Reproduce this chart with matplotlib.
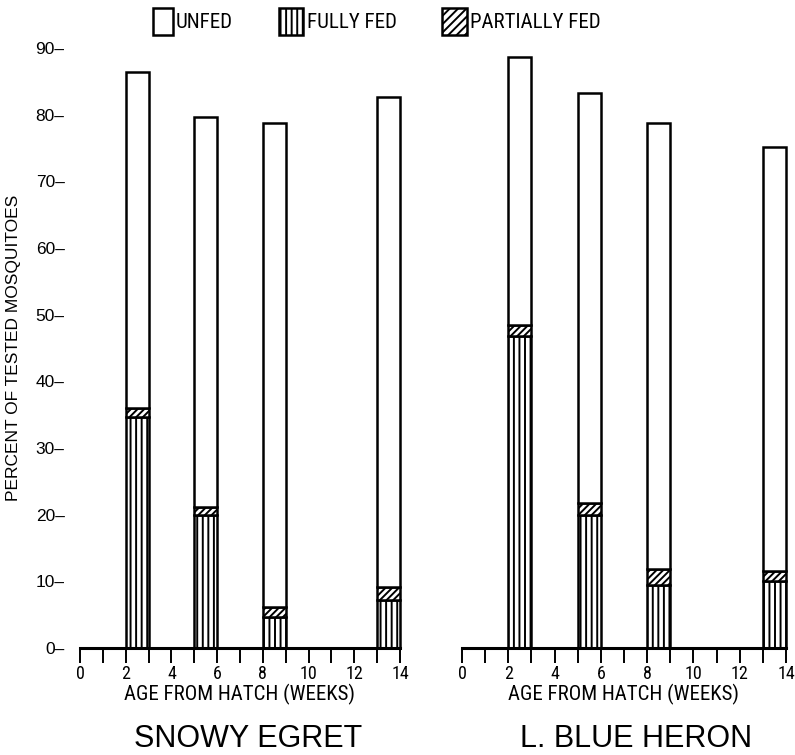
import matplotlib
matplotlib.use("Agg")
import matplotlib.pyplot as plt
from matplotlib.patches import Rectangle
import logging
logging.getLogger('matplotlib.font_manager').setLevel(logging.ERROR)

COND = ['Roboto Condensed', 'Archivo Narrow', 'PT Sans Narrow', 'Liberation Sans', 'DejaVu Sans']
REG = ['Liberation Sans', 'DejaVu Sans']
plt.rcParams['font.family'] = COND
plt.rcParams['hatch.linewidth'] = 1.4

# Data (percent of tested mosquitoes)
bar_starts = [2, 5, 8, 13]          # week bins (bar spans start..start+1)
species = ["SNOWY EGRET", "L. BLUE HERON"]
total = {"SNOWY EGRET": [86.4, 79.7, 78.7, 82.6],
         "L. BLUE HERON": [88.6, 83.3, 78.7, 75.2]}
fully_fed = {"SNOWY EGRET": [34.7, 20.0, 4.7, 7.2],
             "L. BLUE HERON": [46.8, 20.0, 9.5, 10.1]}
partially_fed = {"SNOWY EGRET": [1.3, 1.2, 1.5, 2.0],
                 "L. BLUE HERON": [1.7, 1.8, 2.4, 1.5]}
legend_labels = ["UNFED", "FULLY FED", "PARTIALLY FED"]
y_ticks = [0, 10, 20, 30, 40, 50, 60, 70, 80, 90]
x_ticks = list(range(0, 15))
x_ticklabels = ["0", "", "2", "", "4", "", "6", "", "8", "", "10", "", "12", "", "14"]

W, H = 795, 755
fig = plt.figure(figsize=(W / 100, H / 100), dpi=100)

ax_rects = [(80, 400), (462, 786)]
title_cx = [248, 636]
y0_px, y90_px = 648, 48
ah = y0_px - y90_px

for i, sp in enumerate(species):
    xl, xr = ax_rects[i]
    ax = fig.add_axes([xl / W, (H - y0_px) / H, (xr - xl) / W, ah / H])
    fully = fully_fed[sp]
    part = partially_fed[sp]
    tot = total[sp]
    unfed = [t - f - p for t, f, p in zip(tot, fully, part)]
    unfed_bottom = [f + p for f, p in zip(fully, part)]
    kw = dict(width=1.0, align='edge', edgecolor='black', linewidth=1.8,
              facecolor='white', clip_on=False)
    ax.bar(bar_starts, fully, hatch='|||', **kw)
    ax.bar(bar_starts, part, bottom=fully, hatch='/////', **kw)
    ax.bar(bar_starts, unfed, bottom=unfed_bottom, **kw)

    ax.set_xlim(0, 14)
    ax.set_ylim(0, 90)
    for s in ['top', 'right', 'left']:
        ax.spines[s].set_visible(False)
    ax.spines['bottom'].set_linewidth(2.2)
    ax.set_xticks(x_ticks)
    ax.set_xticklabels(x_ticklabels, fontsize=13)
    ax.tick_params(axis='x', direction='out', length=11, width=1.4, pad=1)
    if i == 0:
        ax.set_yticks(y_ticks)
        ax.set_yticklabels([f"{v}\u2013" for v in y_ticks], fontsize=12.5, family=REG)
        ax.tick_params(axis='y', length=0, pad=11)
        ax.set_ylabel("PERCENT OF TESTED MOSQUITOES", fontsize=12.5, family=REG)
        ax.yaxis.set_label_coords(-(xl - 21) / (xr - xl), 0.5)
    else:
        ax.set_yticks([])
    ax.set_xlabel("AGE FROM HATCH (WEEKS)", fontsize=15)
    ax.xaxis.set_label_coords(0.5, -(684 - y0_px) / ah)
    fig.text(title_cx[i] / W, (H - 739) / H, sp, ha='center', va='center',
             fontsize=22, family=REG)

# Legend drawn in figure coordinates
legend_hatches = [None, '|||', '////']
legend_box_x = [153, 279, 442]
legend_box_w = [20, 24, 25]
legend_text_x = [176, 307, 470]
box_top, box_h = 8, 27
for lab, hx, bx, bw, tx in zip(legend_labels, legend_hatches, legend_box_x,
                               legend_box_w, legend_text_x):
    r = Rectangle((bx / W, (H - box_top - box_h) / H), bw / W, box_h / H,
                  transform=fig.transFigure, facecolor='white', edgecolor='black',
                  linewidth=1.8, hatch=hx)
    fig.patches.append(r)
    fig.text(tx / W, (H - 23) / H, lab, ha='left', va='center', fontsize=15)

fig.savefig("out.png", dpi=100)
